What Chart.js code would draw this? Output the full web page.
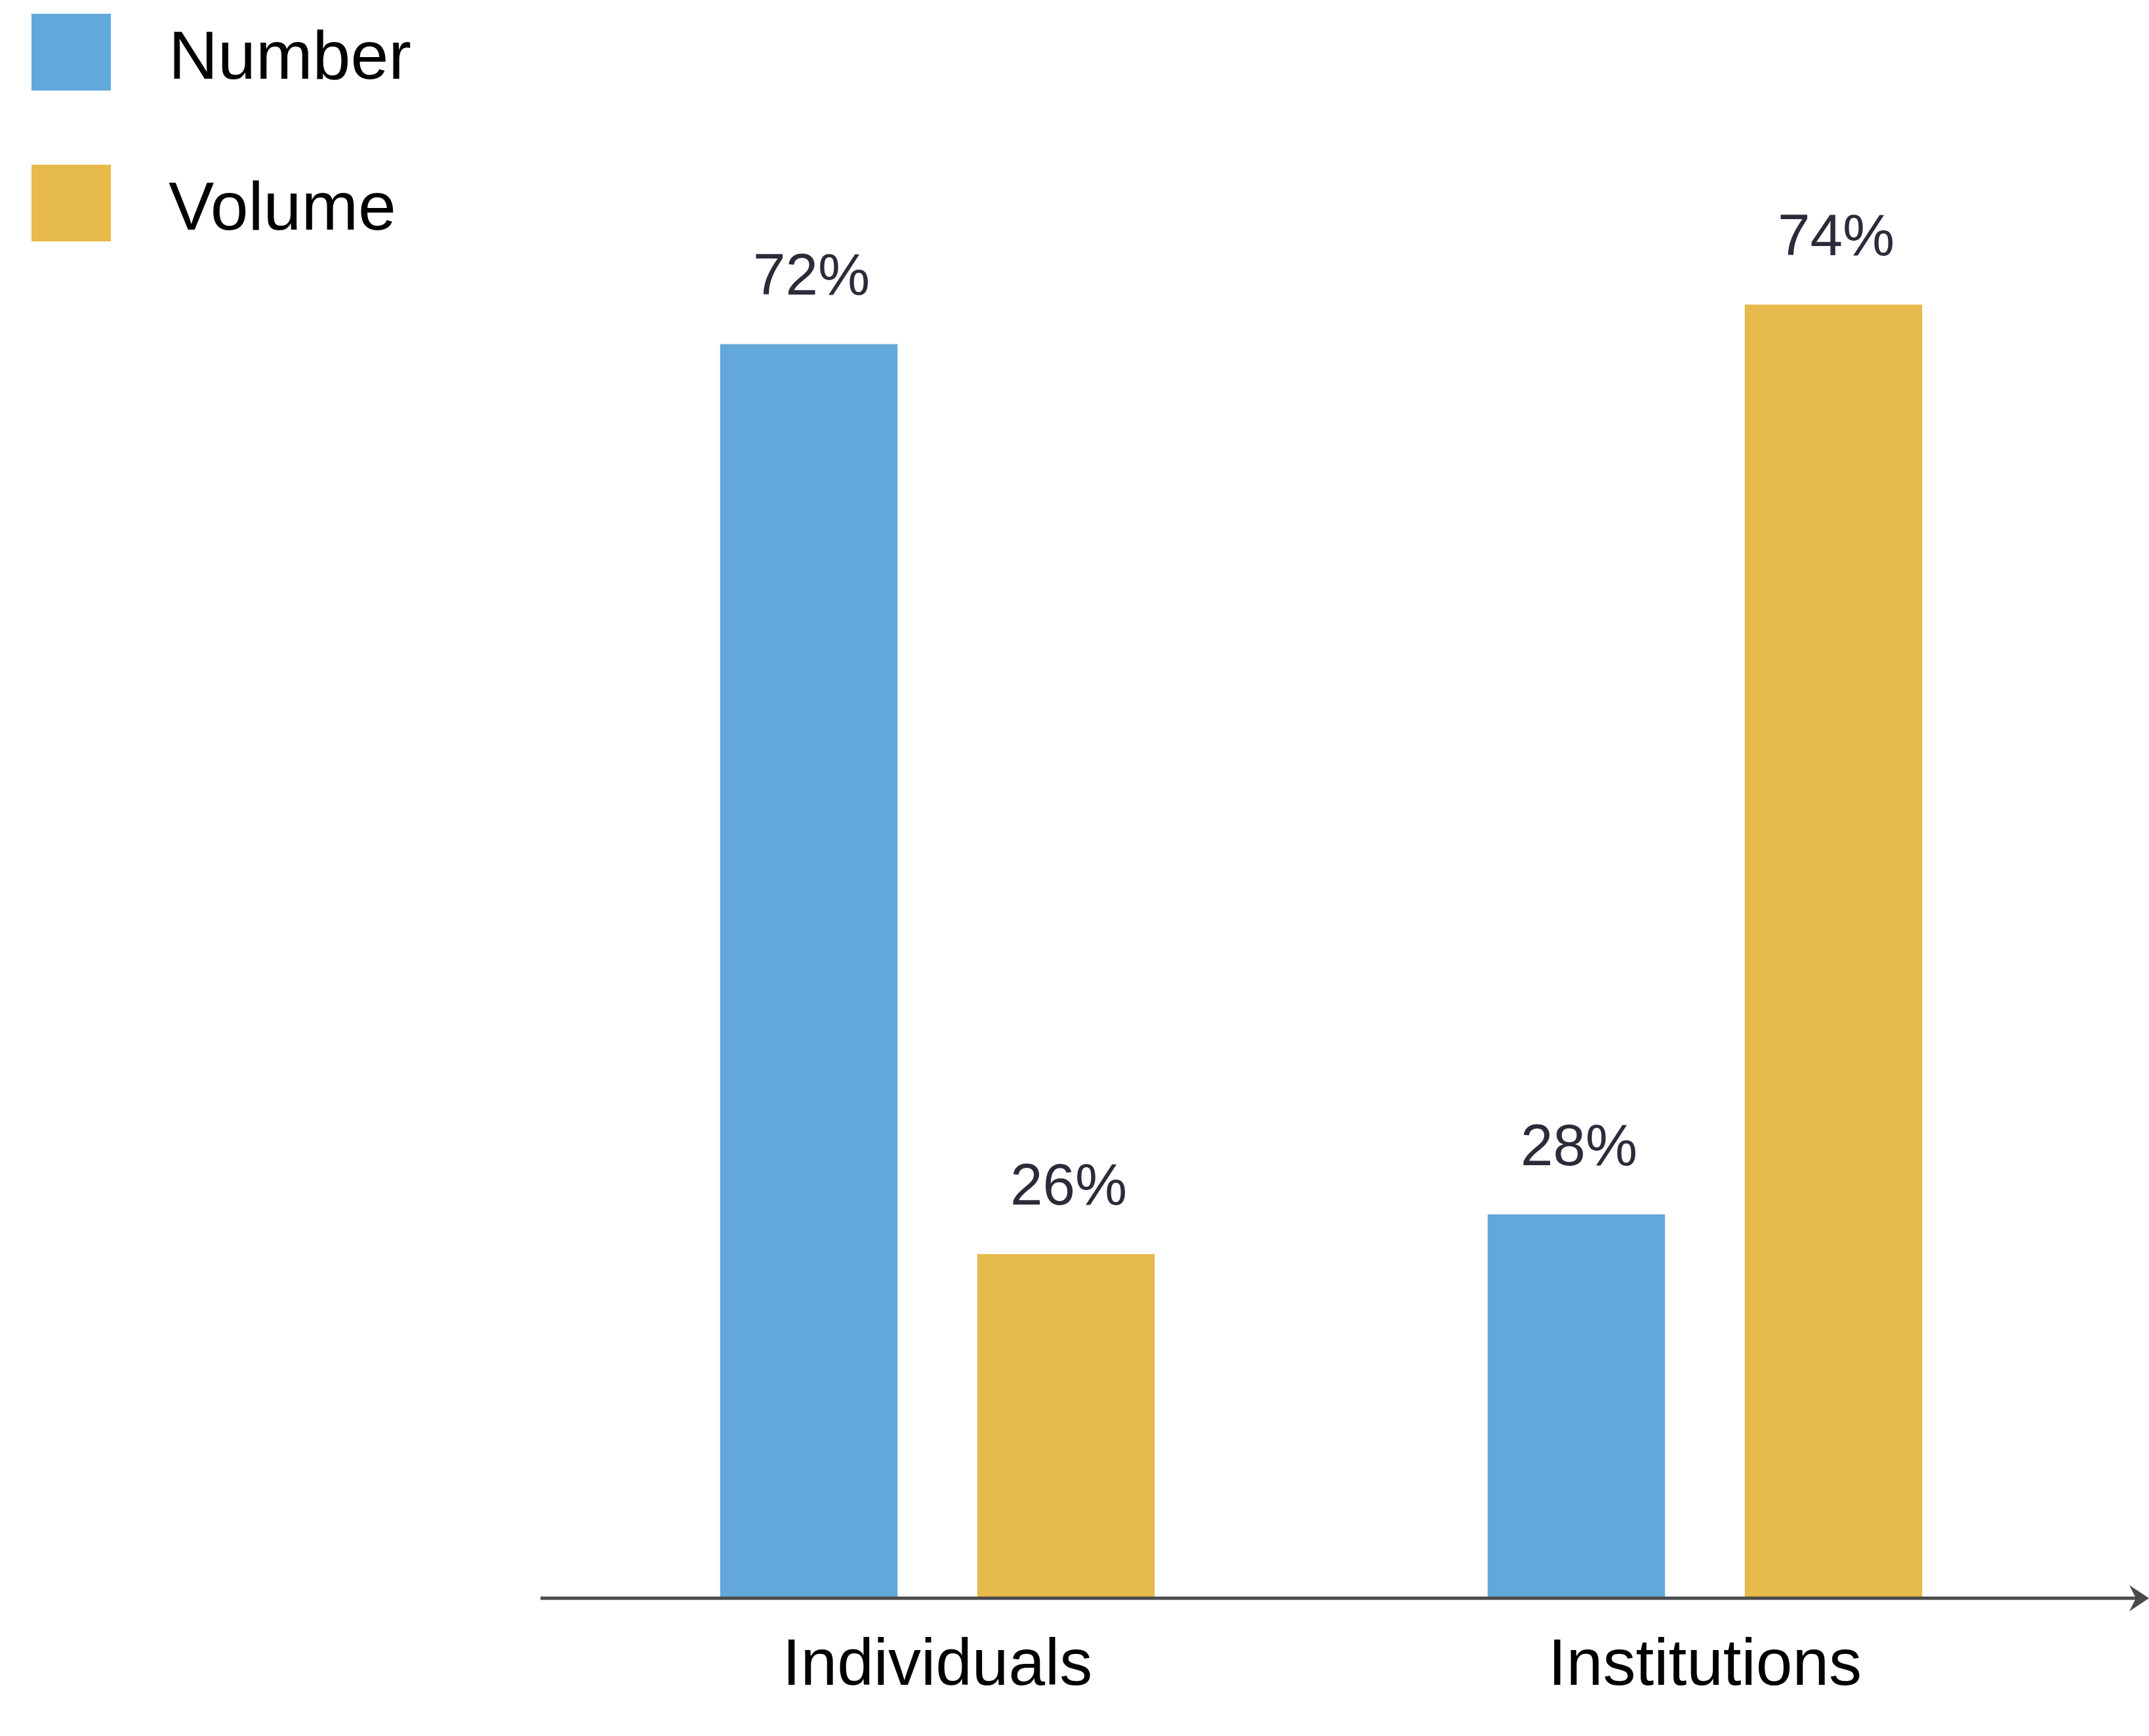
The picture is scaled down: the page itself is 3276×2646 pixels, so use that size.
<!DOCTYPE html>
<html>
<head>
<meta charset="utf-8">
<script src="https://cdn.jsdelivr.net/npm/chart.js@4/dist/chart.umd.min.js"></script>
<style>
  html, body { margin: 0; padding: 0; background: #ffffff; }
  #wrap { width: 3276px; height: 2646px; position: relative; }
</style>
</head>
<body>
<div id="wrap"><canvas id="c" width="3276" height="2646"></canvas></div>
<script>
const categories = ["Individuals", "Institutions"];
const seriesNames = ["Number", "Volume"];
const numberValues = [72, 28];
const volumeValues = [26, 74];
const seriesColors = ["#62A8DA", "#E6BA4B"];

const FONT = "'Liberation Sans', Arial, Helvetica, sans-serif";

const overlay = {
  id: 'overlay',
  afterDatasetsDraw(chart) {
    const ctx = chart.ctx;
    const y0 = chart.scales.y.getPixelForValue(chart.scales.y.min);
    // value labels
    ctx.save();
    ctx.fillStyle = '#2b2b3a';
    ctx.font = '89px ' + FONT;
    ctx.textAlign = 'center';
    ctx.textBaseline = 'middle';
    chart.data.datasets.forEach((ds, di) => {
      const meta = chart.getDatasetMeta(di);
      meta.data.forEach((bar, i) => {
        ctx.fillText(ds.data[i] + '%', bar.x + 4, bar.y - 100);
      });
    });
    ctx.restore();
    // axis line with arrow
    ctx.save();
    ctx.strokeStyle = '#4a4a4a';
    ctx.fillStyle = '#4a4a4a';
    ctx.lineWidth = 5;
    ctx.beginPath();
    ctx.moveTo(824, y0);
    ctx.lineTo(3262, y0);
    ctx.stroke();
    ctx.beginPath();
    ctx.moveTo(3276, y0);
    ctx.lineTo(3246, y0 - 20);
    ctx.lineTo(3256, y0);
    ctx.lineTo(3246, y0 + 20);
    ctx.closePath();
    ctx.fill();
    ctx.restore();
    // legend
    ctx.save();
    ctx.font = '104px ' + FONT;
    ctx.textBaseline = 'middle';
    ctx.textAlign = 'left';
    chart.data.datasets.forEach((ds, di) => {
      const top = 21 + di * 230;
      ctx.fillStyle = ds.backgroundColor;
      ctx.fillRect(48, top, 121, 117);
      ctx.fillStyle = '#000000';
      ctx.fillText(ds.label, 257, top + 70);
    });
    ctx.restore();
  }
};

new Chart(document.getElementById('c'), {
  type: 'bar',
  data: {
    labels: categories,
    datasets: [
      { label: seriesNames[0], data: numberValues, backgroundColor: seriesColors[0] },
      { label: seriesNames[1], data: volumeValues, backgroundColor: seriesColors[1] }
    ]
  },
  options: {
    responsive: false,
    animation: false,
    devicePixelRatio: 1,
    layout: { padding: { left: 844, right: 92, top: 416, bottom: 0 } },
    datasets: { bar: { categoryPercentage: 0.67, barPercentage: 0.69 } },
    plugins: { legend: { display: false }, tooltip: { enabled: false } },
    scales: {
      x: {
        grid: { display: false, drawTicks: false },
        border: { display: false },
        ticks: { color: '#000000', font: { family: FONT, size: 100 }, padding: 44 },
        afterFit(scale) { scale.height = 210; }
      },
      y: {
        display: false,
        min: 8.6,
        max: 75.6
      }
    }
  },
  plugins: [overlay]
});
</script>
</body>
</html>
